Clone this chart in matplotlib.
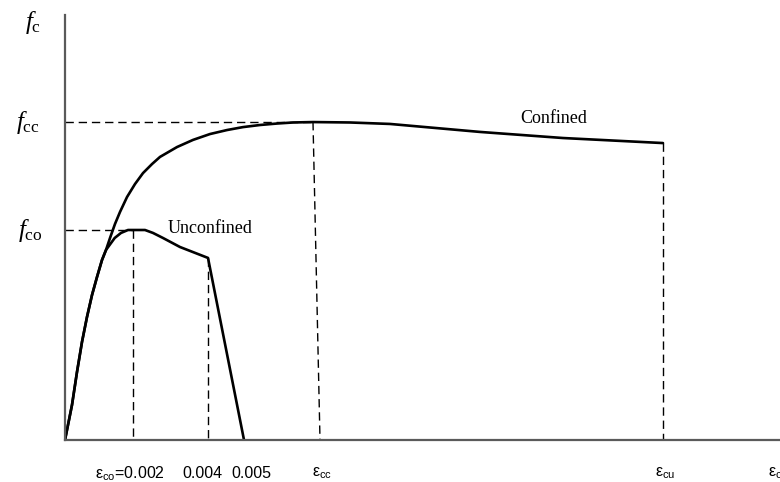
import matplotlib
matplotlib.use('Agg')
import matplotlib.pyplot as plt
from matplotlib import font_manager

# strain in units of 1e-3, stress normalised by f'co
rise_x = [0, 0.206, 0.353, 0.5, 0.647, 0.794, 0.941, 1.088, 1.206]
rise_y = [0, 0.167, 0.324, 0.467, 0.586, 0.690, 0.776, 0.857, 0.905]

unconf_x = [1.462, 1.647, 1.853, 2.0, 2.353, 2.588, 2.882, 3.382, 4.206, 5.265]
unconf_y = [0.962, 0.986, 1.0, 1.0, 1.0, 0.986, 0.962, 0.919, 0.867, 0.0]

conf_x = [1.324, 1.471, 1.618, 1.824, 2.059, 2.294, 2.559, 2.794, 3.294,
          3.765, 4.265, 4.765, 5.235, 5.735, 6.235, 6.706, 7.294, 8.382,
          9.559, 12.206, 14.647, 17.588]
conf_y = [0.962, 1.029, 1.086, 1.157, 1.219, 1.271, 1.314, 1.348, 1.395,
          1.429, 1.457, 1.476, 1.490, 1.500, 1.507, 1.512, 1.514, 1.512,
          1.505, 1.467, 1.438, 1.414]

f_co = 1.0
f_cc = 1.514
eps_co = 2.0
eps_4 = 4.206
eps_cc = 7.294
eps_cc_base = 7.5
eps_cu = 17.588
f_cu = 1.414

x_labels = ['\u03b5$_\\mathsf{co}$=0.002', '0.004', '0.005',
            '\u03b5$_\\mathsf{cc}$', '\u03b5$_\\mathsf{cu}$', '\u03b5$_\\mathsf{c}$']
x_label_pos = [1.91, 4.03, 5.47, 7.56, 17.65, 20.88]

names = {f.name for f in font_manager.fontManager.ttflist}
narrow = 'Liberation Sans Narrow' if 'Liberation Sans Narrow' in names else 'Liberation Sans'

plt.rcParams['mathtext.fontset'] = 'custom'
plt.rcParams['mathtext.rm'] = 'Liberation Serif'
plt.rcParams['mathtext.it'] = 'Liberation Serif:italic'
plt.rcParams['mathtext.sf'] = narrow

fig = plt.figure(figsize=(7.8, 4.82), dpi=100)
ax = fig.add_axes([65 / 780, 42 / 482, 715 / 780, 425 / 482])
ax.set_xlim(0, 715 / 34)
ax.set_ylim(0, 425 / 210)

for s in ['top', 'right']:
    ax.spines[s].set_visible(False)
for s in ['left', 'bottom']:
    ax.spines[s].set_color('#5a5a5a')
    ax.spines[s].set_linewidth(1.6)
ax.set_xticks([])
ax.set_yticks([])

curve = dict(color='black', lw=1.9, solid_joinstyle='round', solid_capstyle='round')
ax.plot(rise_x + unconf_x, rise_y + unconf_y, **curve)
ax.plot(rise_x + conf_x, rise_y + conf_y, **curve)

dash = dict(color='black', lw=1.0, linestyle=(0, (6, 3.5)))
ax.plot([0, eps_cc], [f_cc, f_cc], **dash)
ax.plot([0, eps_co], [f_co, f_co], **dash)
ax.plot([eps_co, eps_co], [f_co, 0], **dash)
ax.plot([eps_4, eps_4], [unconf_y[-2], 0], **dash)
ax.plot([eps_cc, eps_cc_base], [f_cc, 0], **dash)
ax.plot([eps_cu, eps_cu], [f_cu, 0], **dash)

ax.text(3.03, 0.986, 'Unconfined', fontfamily='Liberation Serif', fontsize=13,
        ha='left', va='baseline')
ax.text(13.38, 1.51, 'Confined', fontfamily='Liberation Serif', fontsize=13,
        ha='left', va='baseline')

ylab = dict(fontsize=18, ha='center', va='center', clip_on=False)
ax.text(-0.95, 1.99, r'$f_\mathrm{c}$', **ylab)
ax.text(-1.09, f_cc, r'$f_\mathrm{cc}$', **ylab)
ax.text(-1.03, f_co, r'$f_\mathrm{co}$', **ylab)

for pos, lab in zip(x_label_pos, x_labels):
    ax.text(pos, -0.16, lab, fontfamily=narrow, fontsize=11.5,
            ha='center', va='center', clip_on=False)

fig.savefig('out.png', dpi=100)
